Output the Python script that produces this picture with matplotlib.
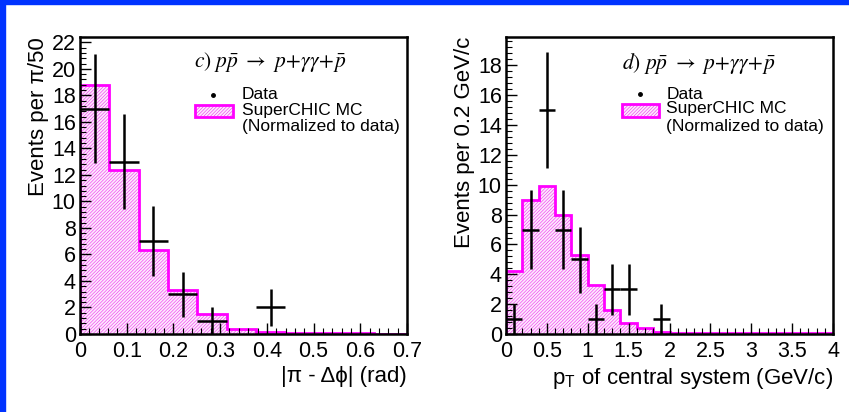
import matplotlib
matplotlib.use("Agg")
import matplotlib.pyplot as plt
import numpy as np
from matplotlib.patches import Rectangle
from matplotlib.ticker import MultipleLocator, FuncFormatter

plt.rcParams['font.family'] = ['Liberation Sans', 'DejaVu Sans']
plt.rcParams['mathtext.fontset'] = 'stix'
plt.rcParams['hatch.linewidth'] = 0.45

# panel c) |pi - dphi|, bins of pi/50
dphi_bin = np.pi / 50
dphi_mc = [18.8, 12.4, 6.3, 3.3, 1.5, 0.35, 0.12, 0.06, 0.05, 0.04, 0.03, 0.03]
dphi_data_bin = [0, 1, 2, 3, 4, 6]
dphi_data = [17, 13, 7, 3, 1, 2]
dphi_err_lo = [4.1, 3.6, 2.65, 1.7, 1.0, 1.4]
dphi_err_hi = [4.1, 3.6, 2.65, 1.7, 1.0, 1.4]

# panel d) pT of central system, bins of 0.2 GeV/c
pt_bin = 0.2
pt_mc = [4.2, 9.0, 9.9, 8.0, 5.3, 3.3, 1.6, 0.75, 0.4, 0.15,
         0.08, 0.06, 0.05, 0.05, 0.05, 0.05, 0.05, 0.05, 0.05, 0.05]
pt_data_bin = [0, 1, 2, 3, 4, 5, 6, 7, 9]
pt_data = [1, 7, 15, 7, 5, 1, 3, 3, 1]
pt_err_lo = [1.0, 2.65, 3.9, 2.65, 2.25, 1.0, 1.7, 1.7, 1.0]
pt_err_hi = [1.0, 2.65, 3.9, 2.65, 2.2, 1.0, 1.7, 1.7, 1.0]

mc_color = '#ff00ff'
mc_hatch = '#f040f0'
mc_fill = '#fdeafd'
fig = plt.figure(figsize=(8.49, 4.12), dpi=100)

# blue slide border
fig.patches.append(Rectangle((0, 0), 5 / 849, 1, transform=fig.transFigure, color='#0033ff', zorder=10))
fig.patches.append(Rectangle((0, 1 - 4 / 412), 1, 4 / 412, transform=fig.transFigure, color='#0033ff', zorder=10))

ax1 = fig.add_axes([80 / 849, 1 - 334 / 412, 327 / 849, 297 / 412])
ax2 = fig.add_axes([506 / 849, 1 - 334 / 412, 327 / 849, 297 / 412])


def draw_panel(ax, binw, mc, data_bin, data, elo, ehi, xmax, ymax):
    edges = np.arange(len(mc) + 1) * binw
    ax.stairs(mc, edges, fill=True, facecolor=mc_fill, edgecolor=mc_hatch, hatch='/' * 10, linewidth=0)
    ax.stairs(mc, edges, fill=False, color=mc_color, linewidth=2, baseline=0)
    x = (np.array(data_bin) + 0.5) * binw
    ax.errorbar(x, data, xerr=binw / 2, yerr=[elo, ehi], fmt='none', ecolor='black', elinewidth=1.8, capsize=0, zorder=5)
    ax.set_xlim(0, xmax)
    ax.set_ylim(0, ymax)
    ax.yaxis.set_major_locator(MultipleLocator(2))
    ax.yaxis.set_minor_locator(MultipleLocator(0.4))
    ax.tick_params(axis='both', which='both', direction='in', top=False, right=False)
    ax.tick_params(which='major', length=8, width=1, labelsize=15.5)
    ax.tick_params(which='minor', length=4, width=0.8)
    ax.tick_params(axis='x', pad=5)
    ax.tick_params(axis='y', pad=3)
    ax.xaxis.set_major_formatter(FuncFormatter(lambda v, p: '%g' % round(v, 3)))
    for s in ax.spines.values():
        s.set_linewidth(1.8)


def draw_legend(ax, label, lx, dot_x, txt_x, box, rows):
    ax.text(lx, rows[0], label, transform=ax.transAxes, fontsize=15.5, va='center', ha='left')
    ax.plot([dot_x], [rows[1]], 'o', color='black', markersize=2.5, transform=ax.transAxes)
    ax.text(txt_x, rows[1], 'Data', transform=ax.transAxes, fontsize=12.5, va='center')
    ax.add_patch(Rectangle((box[0], box[1]), box[2], box[3], transform=ax.transAxes,
                           facecolor=mc_fill, edgecolor=mc_hatch, hatch='/' * 10, linewidth=0))
    ax.add_patch(Rectangle((box[0], box[1]), box[2], box[3], transform=ax.transAxes,
                           fill=False, edgecolor=mc_color, linewidth=2))
    ax.text(txt_x, rows[2], 'SuperCHIC MC', transform=ax.transAxes, fontsize=12.5, va='center')
    ax.text(txt_x, rows[3], '(Normalized to data)', transform=ax.transAxes, fontsize=12.5, va='center')


draw_panel(ax1, dphi_bin, dphi_mc, dphi_data_bin, dphi_data, dphi_err_lo, dphi_err_hi, 0.7, 22.4)
ax1.xaxis.set_major_locator(MultipleLocator(0.1))
ax1.xaxis.set_minor_locator(MultipleLocator(0.02))
ax1.set_xlabel('|π - Δϕ| (rad)', fontsize=16, loc='right', labelpad=3)
ax1.set_ylabel('Events per π/50', fontsize=16, loc='top', labelpad=2)
draw_legend(ax1, r'$c)\ p\bar{p}\ \rightarrow\ p\!+\!\gamma\gamma\!+\!\bar{p}$',
            0.35, 0.407, 0.495, (0.352, 0.731, 0.116, 0.04), [0.915, 0.805, 0.751, 0.697])

draw_panel(ax2, pt_bin, pt_mc, pt_data_bin, pt_data, pt_err_lo, pt_err_hi, 4.0, 19.9)
ax2.xaxis.set_major_locator(MultipleLocator(0.5))
ax2.xaxis.set_minor_locator(MultipleLocator(0.1))
ax2.set_xlabel(r'p$_{\mathregular{T}}$ of central system (GeV/c)', fontsize=16, loc='right', labelpad=3)
ax2.set_ylabel('Events per 0.2 GeV/c', fontsize=16, loc='top', labelpad=2)
draw_legend(ax2, r'$d)\ p\bar{p}\ \rightarrow\ p\!+\!\gamma\gamma\!+\!\bar{p}$',
            0.355, 0.41, 0.49, (0.355, 0.731, 0.114, 0.043), [0.912, 0.808, 0.758, 0.697])

fig.savefig('out.png', dpi=100)
